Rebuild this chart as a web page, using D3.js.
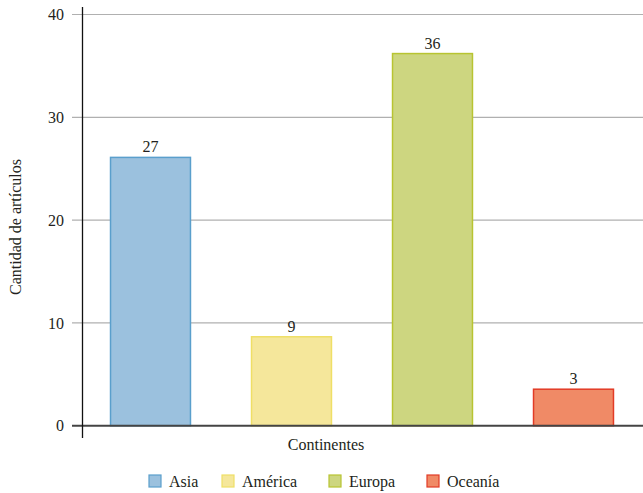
<!DOCTYPE html>
<html>
<head>
<meta charset="utf-8">
<script src="https://cdn.jsdelivr.net/npm/d3@7"></script>
<style>
  html, body { margin: 0; padding: 0; background: #fff; }
</style>
</head>
<body>
<svg id="chart" width="643" height="493" fill="#231f20"></svg>
<script>
// Data
const categories = ["Asia", "América", "Europa", "Oceanía"];
const barValues = [26.1, 8.65, 36.2, 3.55];
const valueLabels = ["27", "9", "36", "3"];
const yTicks = [0, 10, 20, 30, 40];
const fills = ["#9bc1de", "#f5e79b", "#cdd680", "#f08a66"];
const strokes = ["#5a9fcc", "#efdf66", "#b8c431", "#e23b26"];

const svg = d3.select("#chart");
const W = 643, H = 493;
const FONT = "Liberation Serif, DejaVu Serif, serif";
const FS = 16;

const y = d3.scaleLinear().domain([0, 40]).range([425.7, 14.5]);
const x = d3.scaleBand().domain(categories).range([80, 644])
  .paddingInner(0.433).paddingOuter(0.2165);

// Gridlines
svg.append("g").selectAll("line").data(yTicks.filter(d => d !== 0)).join("line")
  .attr("x1", 72).attr("x2", W)
  .attr("y1", d => y(d)).attr("y2", d => y(d))
  .attr("stroke", "#b0b0b0").attr("stroke-width", 1.2);

// Y tick labels
svg.append("g").selectAll("text").data(yTicks).join("text")
  .attr("x", 64).attr("y", d => y(d)).attr("dy", "0.35em")
  .attr("text-anchor", "end").attr("font-size", FS).attr("font-family", FONT)
  .text(d => d);

// Bars
svg.append("g").selectAll("rect").data(categories).join("rect")
  .attr("x", d => x(d))
  .attr("width", x.bandwidth())
  .attr("y", (d, i) => y(barValues[i]))
  .attr("height", (d, i) => y(0) - y(barValues[i]))
  .attr("fill", (d, i) => fills[i])
  .attr("stroke", (d, i) => strokes[i])
  .attr("stroke-width", 1.5);

// Value labels
svg.append("g").selectAll("text").data(categories).join("text")
  .attr("x", (d, i) => x(d) + x.bandwidth() / 2)
  .attr("y", (d, i) => y(barValues[i]) - 5)
  .attr("text-anchor", "middle").attr("font-size", FS).attr("font-family", FONT)
  .text((d, i) => valueLabels[i]);

// Zero line
svg.append("line")
  .attr("x1", 72).attr("x2", W)
  .attr("y1", y(0)).attr("y2", y(0))
  .attr("stroke", "#444").attr("stroke-width", 2);

// Y axis line
svg.append("line")
  .attr("x1", 82.5).attr("x2", 82.5)
  .attr("y1", 7).attr("y2", 438)
  .attr("stroke", "#111").attr("stroke-width", 1.3);

// Axis titles
svg.append("text")
  .attr("transform", "translate(21,227) rotate(-90)")
  .attr("text-anchor", "middle").attr("font-size", FS).attr("font-family", FONT)
  .text("Cantidad de artículos");

svg.append("text")
  .attr("x", 326).attr("y", 450)
  .attr("text-anchor", "middle").attr("font-size", FS).attr("font-family", FONT)
  .text("Continentes");

// Legend
const legendX = [149, 222, 329, 427];
const lg = svg.append("g").selectAll("g").data(categories).join("g")
  .attr("transform", (d, i) => `translate(${legendX[i]},475)`);
lg.append("rect").attr("width", 12).attr("height", 12)
  .attr("fill", (d, i) => fills[i]).attr("stroke", (d, i) => strokes[i]).attr("stroke-width", 1.2);
lg.append("text").attr("x", 20).attr("y", 12)
  .attr("font-size", FS).attr("font-family", FONT).text(d => d);
</script>
</body>
</html>
